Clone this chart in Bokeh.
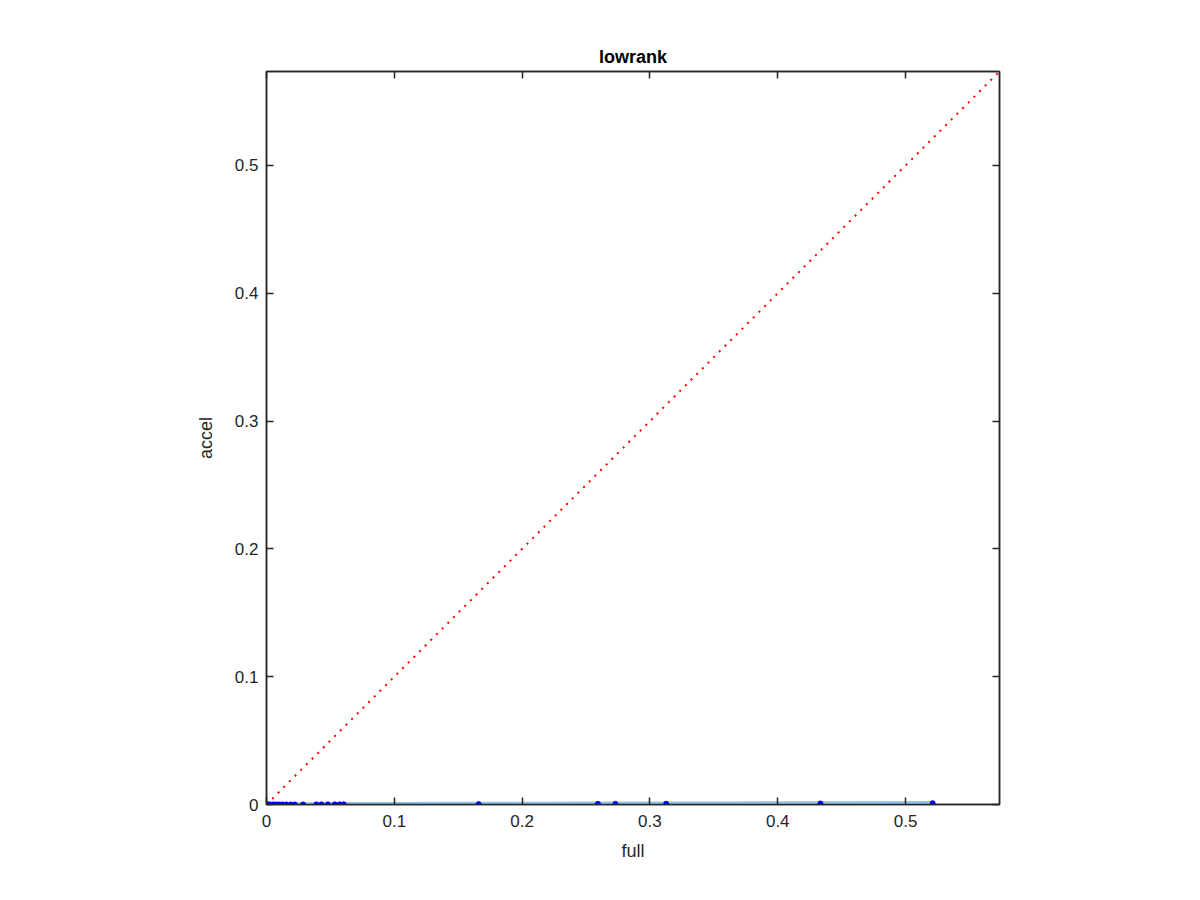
from bokeh.plotting import figure
from bokeh.models import Range1d, FixedTicker, LinearAxis
from bokeh.embed import file_html
from bokeh.resources import INLINE

# data
full = [0.0, 0.0005, 0.001, 0.0015, 0.0026, 0.0047, 0.0065, 0.0084, 0.0104, 0.0125,
        0.0156, 0.019, 0.0221, 0.0287, 0.039, 0.043, 0.048, 0.0534, 0.0573, 0.0604,
        0.166, 0.2593, 0.273, 0.3127, 0.4334, 0.5212]
accel = [0.0, 0.0, 0.0, 0.0, 0.0, 0.00001, 0.00001, 0.00002, 0.00002, 0.00003,
         0.00003, 0.00004, 0.00005, 0.00006, 0.00008, 0.00009, 0.0001, 0.00011, 0.00012, 0.00013,
         0.0003, 0.0005, 0.0005, 0.0006, 0.0008, 0.0010]
diag = [0.0, 0.5735]
ticks = [0, 0.1, 0.2, 0.3, 0.4, 0.5]
tick_labels = ["0", "0.1", "0.2", "0.3", "0.4", "0.5"]

FONT = "Liberation Sans"
AX = "#262626"

p = figure(width=1184, height=884, output_backend="svg", toolbar_location=None,
           x_range=Range1d(0, 0.5735), y_range=Range1d(0, 0.5735),
           min_border_left=266, min_border_right=185, min_border_top=71, min_border_bottom=80,
           title="lowrank")
p.title.align = "center"
p.title.text_font = FONT
p.title.text_font_size = "18px"
p.title.text_font_style = "bold"
p.title.text_color = "black"
p.title.standoff = 10
p.grid.visible = False
p.outline_line_color = AX
p.outline_line_width = 1.5

labels = {t: l for t, l in zip(ticks, tick_labels)}
for ax in (p.xaxis[0], p.yaxis[0]):
    ax.ticker = FixedTicker(ticks=ticks)
    ax.major_label_overrides = labels
    ax.major_tick_in = 7
    ax.major_tick_out = 0
    ax.minor_tick_in = 0
    ax.minor_tick_out = 0
    ax.axis_line_color = AX
    ax.axis_line_width = 1.5
    ax.major_tick_line_color = AX
    ax.major_tick_line_width = 1.5
    ax.major_label_text_font = FONT
    ax.major_label_text_font_size = "17px"
    ax.major_label_text_color = AX
    ax.axis_label_text_font = FONT
    ax.axis_label_text_font_size = "18px"
    ax.axis_label_text_font_style = "normal"
    ax.axis_label_text_color = AX
p.xaxis[0].axis_label = "full"
p.yaxis[0].axis_label = "accel"
p.xaxis[0].axis_label_standoff = 11
p.yaxis[0].axis_label_standoff = 16
p.xaxis[0].major_label_standoff = 10
p.yaxis[0].major_label_standoff = 8

for loc in ("above", "right"):
    a = LinearAxis(ticker=FixedTicker(ticks=ticks),
                   major_label_overrides={t: "" for t in ticks},
                   major_tick_in=7, major_tick_out=0, minor_tick_in=0, minor_tick_out=0,
                   axis_line_color=AX, axis_line_width=1.5,
                   major_tick_line_color=AX, major_tick_line_width=1.5)
    p.add_layout(a, loc)

p.line(full, accel, line_color="#94c3e6", line_width=4.5)
p.line(diag, diag, line_color="red", line_width=2, line_dash="2 6")
p.scatter(full, accel, size=5, color="blue")

open("out.html", "w").write(file_html(p, INLINE))
